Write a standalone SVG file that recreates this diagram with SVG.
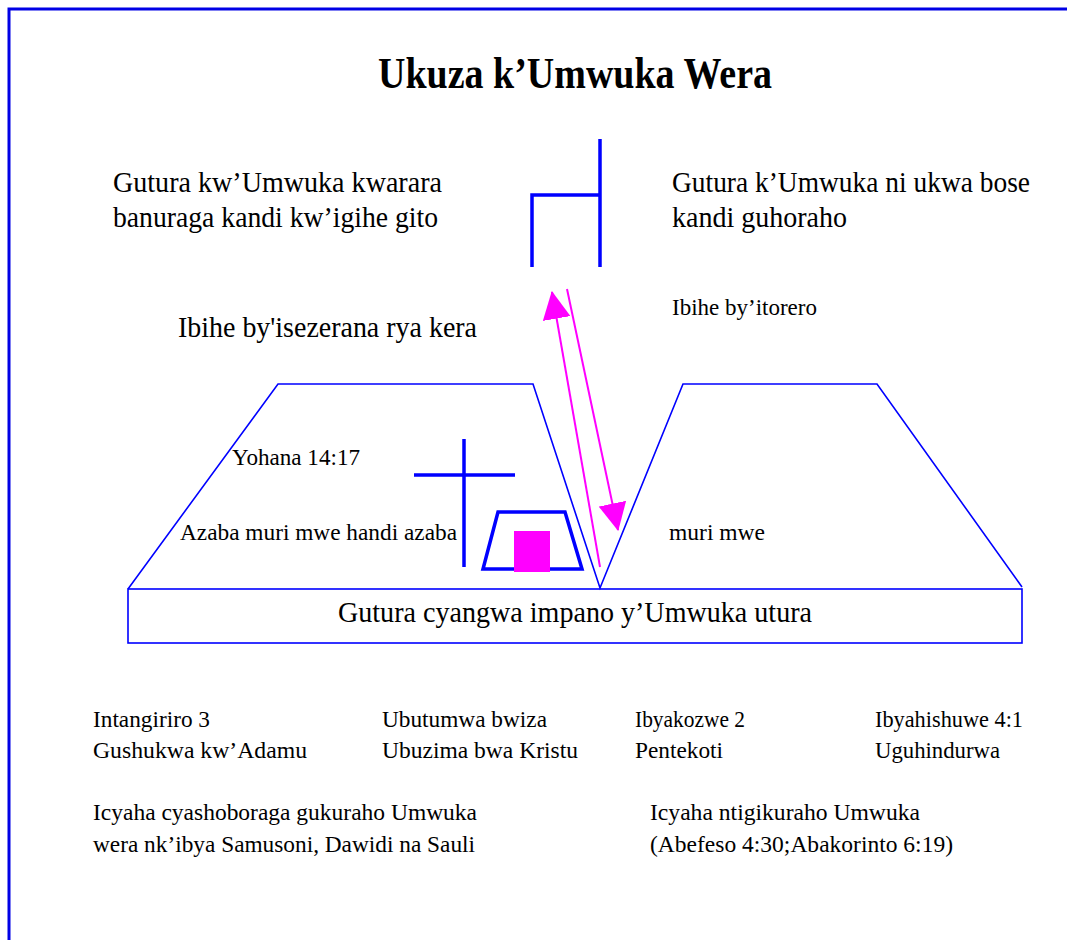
<svg xmlns="http://www.w3.org/2000/svg" width="1067" height="940" viewBox="0 0 1067 940">
<style>
.t{font-family:"Liberation Serif","Times New Roman",serif;fill:#000}
.b{font-size:29px}
.s{font-size:23px}
.m{font-size:24px}
.thin{fill:none;stroke:#0000ff;stroke-width:1.6}
.thick{fill:none;stroke:#0000ff;stroke-width:3.5}
.arr{stroke:#ff00ff;stroke-width:2;fill:none}
</style>
<defs>
<marker id="ah" markerUnits="userSpaceOnUse" markerWidth="28" markerHeight="28" viewBox="0 0 26 26" refX="25" refY="13" orient="auto">
<path d="M0,0 L26,13 L0,26 Z" fill="#ff00ff"/>
</marker>
</defs>
<rect width="1067" height="940" fill="#fff"/>
<g id="frame">
<path d="M9,940 V9 H1067" fill="none" stroke="#0000e6" stroke-width="3"/>
</g>
<g id="title">
<text class="t" x="378" y="88" font-size="45" font-weight="bold" textLength="394" lengthAdjust="spacingAndGlyphs">Ukuza k’Umwuka Wera</text>
</g>
<g id="bracket">
<path class="thick" d="M600,139 V267 M600,195 H532 V267" stroke-width="3"/>
</g>
<g id="left-text">
<text class="t b" x="113" y="192" textLength="329" lengthAdjust="spacingAndGlyphs">Gutura kw’Umwuka kwarara</text>
<text class="t b" x="113" y="227" textLength="325" lengthAdjust="spacingAndGlyphs">banuraga  kandi  kw’igihe gito</text>
</g>
<g id="right-text">
<text class="t b" x="672" y="192" textLength="358" lengthAdjust="spacingAndGlyphs">Gutura k’Umwuka ni  ukwa bose</text>
<text class="t b" x="672" y="227" textLength="175" lengthAdjust="spacingAndGlyphs">kandi  guhoraho</text>
</g>
<g id="era-old">
<text class="t b" x="178" y="337" textLength="299" lengthAdjust="spacingAndGlyphs">Ibihe by'isezerana rya kera</text>
</g>
<g id="era-church">
<text class="t s" x="672" y="315" textLength="145" lengthAdjust="spacingAndGlyphs">Ibihe by’itorero</text>
</g>
<g id="ground">
<path class="thin" d="M128,589 L278,384 L533,384 L600,588 L683,384 L877,384 L1022,587"/>
<rect class="thin" x="128" y="589" width="894" height="54"/>
<text class="t b" x="338" y="622" textLength="474" lengthAdjust="spacingAndGlyphs">Gutura cyangwa impano y’Umwuka utura</text>
</g>
<g id="verse">
<text class="t m" x="232" y="465" textLength="128" lengthAdjust="spacingAndGlyphs">Yohana 14:17</text>
<text class="t m" x="180" y="540" textLength="277" lengthAdjust="spacingAndGlyphs">Azaba muri mwe handi azaba</text>
<text class="t m" x="669" y="540" textLength="96" lengthAdjust="spacingAndGlyphs">muri mwe</text>
</g>
<g id="cross">
<path class="thick" d="M464,439 V567 M414,475 H515"/>
</g>
<g id="ark">
<path class="thick" d="M498,512 H565 L582,569 H483 Z" stroke-width="4"/>
<rect x="514" y="531" width="36" height="41" fill="#ff00ff"/>
</g>
<g id="connectors">
<line class="arr" x1="600" y1="567" x2="552" y2="292" marker-end="url(#ah)"/>
<line class="arr" x1="567" y1="289" x2="618" y2="530" marker-end="url(#ah)"/>
</g>
<g id="bottom-left">
<text class="t s" x="93" y="727" textLength="117" lengthAdjust="spacingAndGlyphs">Intangiriro 3</text>
<text class="t s" x="93" y="758" textLength="214" lengthAdjust="spacingAndGlyphs">Gushukwa kw’Adamu</text>
<text class="t s" x="382" y="727" textLength="165" lengthAdjust="spacingAndGlyphs">Ubutumwa bwiza</text>
<text class="t s" x="382" y="758" textLength="196" lengthAdjust="spacingAndGlyphs">Ubuzima bwa Kristu</text>
<text class="t s" x="93" y="820" textLength="384" lengthAdjust="spacingAndGlyphs">Icyaha cyashoboraga gukuraho Umwuka</text>
<text class="t s" x="93" y="852" textLength="382" lengthAdjust="spacingAndGlyphs">wera nk’ibya Samusoni, Dawidi na Sauli</text>
</g>
<g id="bottom-right">
<text class="t s" x="635" y="727" textLength="110" lengthAdjust="spacingAndGlyphs">Ibyakozwe 2</text>
<text class="t s" x="635" y="758" textLength="88" lengthAdjust="spacingAndGlyphs">Pentekoti</text>
<text class="t s" x="875" y="727" textLength="148" lengthAdjust="spacingAndGlyphs">Ibyahishuwe 4:1</text>
<text class="t s" x="875" y="758" textLength="125" lengthAdjust="spacingAndGlyphs">Uguhindurwa</text>
<text class="t s" x="650" y="820" textLength="270" lengthAdjust="spacingAndGlyphs">Icyaha ntigikuraho Umwuka</text>
<text class="t s" x="650" y="852" textLength="303" lengthAdjust="spacingAndGlyphs">(Abefeso 4:30;Abakorinto 6:19)</text>
</g>
</svg>
